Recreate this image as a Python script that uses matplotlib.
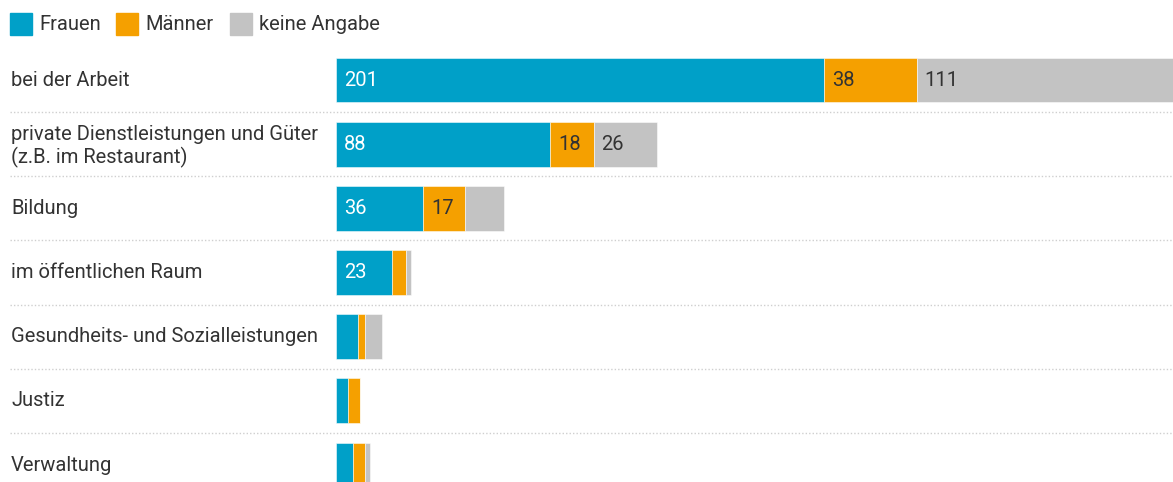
import matplotlib.pyplot as plt
from matplotlib.patches import Rectangle
from matplotlib.transforms import blended_transform_factory, offset_copy

plt.rcParams['font.family'] = ['Roboto', 'DejaVu Sans']

# data
categories = [
    "bei der Arbeit",
    "private Dienstleistungen und Güter\n(z.B. im Restaurant)",
    "Bildung",
    "im öffentlichen Raum",
    "Gesundheits- und Sozialleistungen",
    "Justiz",
    "Verwaltung",
]
frauen = [201, 88, 36, 23, 9, 5, 7]
maenner = [38, 18, 17, 6, 3, 5, 5]
keine_angabe = [111, 26, 16, 2, 7, 0, 2]

series_names = ["Frauen", "Männer", "keine Angabe"]
colors = ["#00a0c8", "#f5a000", "#c3c3c3"]
text_colors = ["white", "#333333", "#333333"]

FS = 14.5

W, H = 1173, 482
fig = plt.figure(figsize=(W / 100, H / 100), dpi=100)

# axes placed in pixel terms
left_px, top_px = 336, 48
ax = fig.add_axes([left_px / W, 0, 1 - left_px / W, 1 - top_px / H])

scale = 2.43  # px per unit
ax.set_xlim(0, (W - left_px) / scale)
pitch = 64.17
ax.set_ylim((H - 80) / pitch, -(80 - top_px) / pitch)
ax.axis("off")

ypos = list(range(len(categories)))
left = [0] * len(categories)
for vals, c, tc in zip([frauen, maenner, keine_angabe], colors, text_colors):
    ax.barh(ypos, vals, left=left, height=0.70, color=c,
            edgecolor=(1, 1, 1, 0.6), linewidth=0.6)
    for y, v, l in zip(ypos, vals, left):
        if v >= 17:
            ax.text(l, y, str(v), color=tc, fontsize=FS, va="center", ha="left",
                    transform=offset_copy(ax.transData, fig=fig, x=8, y=0, units="dots"))
    left = [a + b for a, b in zip(left, vals)]

# separator lines
for i in range(len(categories) - 1):
    ax.axhline(i + 0.5, xmin=(10 - left_px) / (W - left_px), xmax=1,
               color="#cfcfcf", linestyle=(0, (1, 1.5)), linewidth=1, clip_on=False)

# category labels
trans = blended_transform_factory(fig.transFigure, ax.transData)
for y, cat in zip(ypos, categories):
    dy = 0.04 if "\n" in cat else 0
    ax.text(11 / W, y + dy, cat, transform=trans, ha="left", va="center",
            fontsize=FS, color="#333333", linespacing=1.18)

# legend
leg_x = [10, 116, 230]
for x, name, c in zip(leg_x, series_names, colors):
    fig.patches.append(Rectangle((x / W, 1 - 35 / H), 22 / W, 22 / H,
                                 transform=fig.transFigure, color=c))
    fig.text((x + 29) / W, 1 - 24 / H, name, ha="left", va="center",
             fontsize=FS, color="#333333")

fig.savefig("out.png", dpi=100)
